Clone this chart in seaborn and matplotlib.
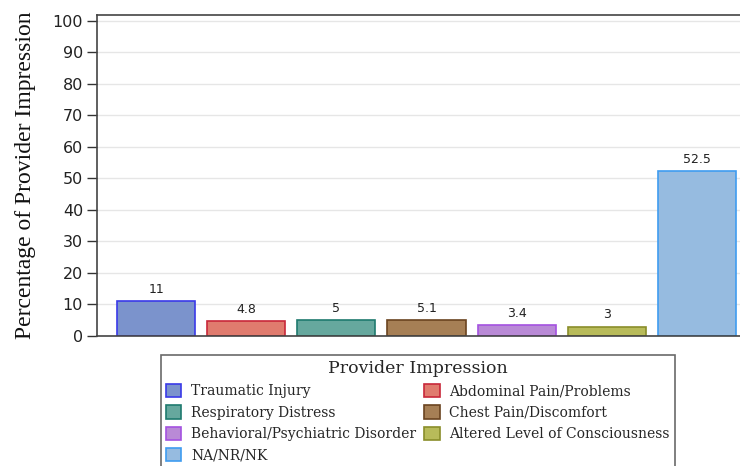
import pandas as pd
import matplotlib
matplotlib.use("Agg")
import matplotlib.pyplot as plt
import seaborn as sns
from matplotlib.patches import Patch

# data
impressions = ["Traumatic Injury", "Abdominal Pain/Problems", "Respiratory Distress",
               "Chest Pain/Discomfort", "Behavioral/Psychiatric Disorder",
               "Altered Level of Consciousness", "NA/NR/NK"]
percent = [11, 4.8, 5, 5.1, 3.4, 3, 52.5]
value_labels = ["11", "4.8", "5", "5.1", "3.4", "3", "52.5"]
fill_colors = ["#7b93cc", "#e07b6e", "#66a89e", "#a67f55", "#b98ad6", "#b8bb5a", "#96bbe0"]
edge_colors = ["#3a3ae8", "#c8283a", "#1f7a6e", "#6b4420", "#a452e0", "#8a8e2a", "#3f9cf0"]
yticks = [0, 10, 20, 30, 40, 50, 60, 70, 80, 90, 100]

df = pd.DataFrame({"Provider Impression": impressions, "Percent": percent})

sns.set_style("white")
fig = plt.figure(figsize=(7.4, 4.66), dpi=100)
ax = fig.add_axes([0.131, 0.279, 0.869, 0.689])

sns.barplot(data=df, x="Provider Impression", y="Percent", hue="Provider Impression",
            palette=fill_colors, order=impressions, hue_order=impressions,
            dodge=False, width=0.867, legend=False, ax=ax, saturation=1)

for i, bar in enumerate(ax.patches[:len(impressions)]):
    bar.set_edgecolor(edge_colors[i])
    bar.set_linewidth(1.2)

for i, v in enumerate(percent):
    ax.text(i, v + 1.6, value_labels[i], ha="center", va="bottom", fontsize=9,
            family="DejaVu Sans", color="#222222")

ax.set_xlim(-0.656, 6.478)
ax.set_ylim(0, 101.9)
ax.set_yticks(yticks)
ax.set_yticklabels([str(t) for t in yticks], fontsize=11.5, color="#222222")
ax.set_xticks([])
ax.set_xlabel("")
ax.set_ylabel("Percentage of Provider Impression", family="Liberation Serif",
              fontsize=17, color="#111111", labelpad=12)
ax.yaxis.grid(True, color="#e6e6e6", linewidth=1)
ax.set_axisbelow(True)
ax.tick_params(axis="y", left=True, length=7, width=1, color="#333333", pad=3)

for s in ["left", "bottom", "top"]:
    ax.spines[s].set_color("#444444")
    ax.spines[s].set_linewidth(1.2)
ax.spines["right"].set_visible(False)

handles = [Patch(facecolor=fill_colors[i], edgecolor=edge_colors[i], linewidth=1.2,
                 label=impressions[i]) for i in range(len(impressions))]
order = [0, 2, 4, 6, 1, 3, 5]
leg = fig.legend([handles[i] for i in order], [impressions[i] for i in order],
                 title="Provider Impression", ncol=2, loc="upper left",
                 bbox_to_anchor=(0.2176, 0.238), frameon=True, fancybox=False,
                 prop={"family": "DejaVu Serif", "size": 10},
                 title_fontproperties={"family": "DejaVu Serif", "size": 12.5},
                 handlelength=1.1, handleheight=1.1, handletextpad=0.7,
                 columnspacing=0.6, labelspacing=0.5, borderpad=0.35,
                 borderaxespad=0)
leg.get_frame().set_edgecolor("#444444")
leg.get_frame().set_linewidth(1.2)

fig.savefig("out.png", dpi=100)
